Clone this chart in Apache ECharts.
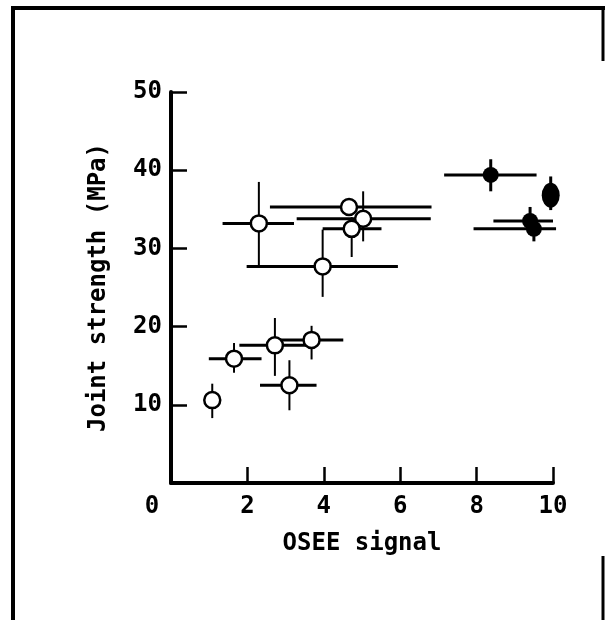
<!DOCTYPE html>
<html>
<head>
<meta charset="utf-8">
<script src="https://cdn.jsdelivr.net/npm/echarts@6/dist/echarts.min.js"></script>
<style>
  html, body { margin: 0; padding: 0; background: #fff; }
  #chart { width: 605px; height: 620px; }
</style>
</head>
<body>
<div id="chart"></div>
<script>
// Open circles: value, horizontal error range, vertical error range
const openX     = [1.08, 1.65, 2.72, 3.68, 3.10, 2.30, 3.97, 4.66, 5.03, 4.73];
const openY     = [10.6, 15.9, 17.6, 18.3, 12.5, 33.2, 27.7, 35.3, 33.8, 32.5];
const openXLow  = [1.08, 0.99, 1.79, 2.72, 2.33, 1.35, 1.98, 2.59, 3.29, 3.97];
const openXHigh = [1.08, 2.37, 3.73, 4.51, 3.81, 3.22, 5.94, 6.82, 6.80, 5.51];
const openYLow  = [8.3, 14.1, 13.7, 15.8, 9.3, 27.7, 23.8, 34.3, 30.9, 28.9];
const openYHigh = [12.7, 17.9, 21.1, 20.1, 15.7, 38.5, 32.4, 36.3, 37.3, 34.0];

// Filled circles
const fullX     = [8.37, 9.94, 9.40, 9.50];
const fullY     = [39.4, 36.8, 33.5, 32.5];
const fullXLow  = [7.15, 9.94, 8.44, 7.92];
const fullXHigh = [9.57, 9.94, 10.0, 10.08];
const fullYLow  = [37.3, 34.9, 32.0, 30.9];
const fullYHigh = [41.4, 39.2, 35.3, 33.0];

const xTicks = [0, 2, 4, 6, 8, 10];
const yTicks = [0, 10, 20, 30, 40, 50];

const font = 'DejaVu Sans Mono';

function errorBars(xs, ys, xl, xh, yl, yh, vWidth) {
    return {
        type: 'custom',
        silent: true,
        z: 1,
        encode: { x: 0, y: 1 },
        data: xs.map((x, i) => [x, ys[i], xl[i], xh[i], yl[i], yh[i]]),
        renderItem: function (params, api) {
            let x = api.value(0), y = api.value(1);
            let a = api.coord([api.value(2), y]);
            let b = api.coord([api.value(3), y]);
            let c = api.coord([x, api.value(4)]);
            let d = api.coord([x, api.value(5)]);
            return {
                type: 'group',
                children: [
                    { type: 'line', shape: { x1: a[0], y1: a[1], x2: b[0], y2: b[1] },
                      style: { stroke: '#000', lineWidth: 3 } },
                    { type: 'line', shape: { x1: c[0], y1: c[1], x2: d[0], y2: d[1] },
                      style: { stroke: '#000', lineWidth: vWidth } }
                ]
            };
        }
    };
}

let chart = echarts.init(document.getElementById('chart'));

let option = {
    animation: false,
    backgroundColor: '#fff',
    grid: { left: 171, right: 52, top: 92, bottom: 137, containLabel: false },
    xAxis: {
        type: 'value',
        min: xTicks[0],
        max: xTicks[xTicks.length - 1],
        interval: 2,
        name: 'OSEE signal',
        nameLocation: 'middle',
        nameGap: 49,
        nameTextStyle: { fontFamily: font, fontWeight: 'bold', fontSize: 24, color: '#000' },
        axisLine: { lineStyle: { color: '#000', width: 4 } },
        axisTick: { inside: true, length: 16, lineStyle: { color: '#000', width: 2.5 } },
        splitLine: { show: false },
        axisLabel: {
            margin: 12,
            fontFamily: font, fontWeight: 'bold', fontSize: 24, color: '#000',
            formatter: v => v === 0 ? '{z|0}' : String(v),
            rich: { z: { padding: [0, 38, 0, 0], fontFamily: font, fontWeight: 'bold', fontSize: 24, color: '#000' } }
        }
    },
    yAxis: {
        type: 'value',
        min: yTicks[0],
        max: yTicks[yTicks.length - 1],
        interval: 10,
        name: 'Joint strength (MPa)',
        nameLocation: 'middle',
        nameGap: 60,
        nameTextStyle: { fontFamily: font, fontWeight: 'bold', fontSize: 24, color: '#000' },
        axisLine: { lineStyle: { color: '#000', width: 4 } },
        axisTick: { inside: true, length: 16, lineStyle: { color: '#000', width: 2.5 } },
        splitLine: { show: false },
        axisLabel: {
            margin: 9,
            fontFamily: font, fontWeight: 'bold', fontSize: 24, color: '#000',
            formatter: v => v === 0 ? '' : String(v)
        }
    },
    graphic: [
        { type: 'line', shape: { x1: 11, y1: 8, x2: 605, y2: 8 }, style: { stroke: '#000', lineWidth: 4 } },
        { type: 'line', shape: { x1: 13, y1: 6, x2: 13, y2: 620 }, style: { stroke: '#000', lineWidth: 4 } },
        { type: 'line', shape: { x1: 603, y1: 6, x2: 603, y2: 61 }, style: { stroke: '#000', lineWidth: 3 } },
        { type: 'line', shape: { x1: 603, y1: 556, x2: 603, y2: 620 }, style: { stroke: '#000', lineWidth: 3 } }
    ],
    series: [
        errorBars(openX, openY, openXLow, openXHigh, openYLow, openYHigh, 2),
        errorBars(fullX, fullY, fullXLow, fullXHigh, fullYLow, fullYHigh, 3),
        {
            type: 'scatter',
            z: 3,
            symbol: 'circle',
            symbolSize: 16,
            itemStyle: { color: '#fff', borderColor: '#000', borderWidth: 2.5, opacity: 1 },
            data: openX.map((x, i) => [x, openY[i]])
        },
        {
            type: 'scatter',
            z: 3,
            symbol: 'circle',
            symbolSize: (v, p) => p.dataIndex === 1 ? [18, 25] : 16,
            itemStyle: { color: '#000', opacity: 1 },
            data: fullX.map((x, i) => [x, fullY[i]])
        }
    ]
};

chart.setOption(option);
</script>
</body>
</html>
